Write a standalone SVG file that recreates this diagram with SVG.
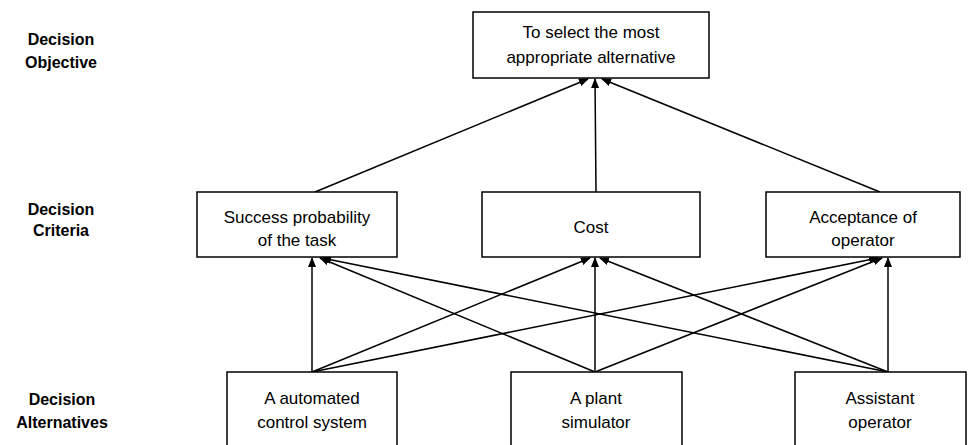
<svg xmlns="http://www.w3.org/2000/svg" width="975" height="445" viewBox="0 0 975 445">
<style>
.box{fill:#fff;stroke:#000;stroke-width:1.5}
.t{font-family:"Liberation Sans",Arial,sans-serif;font-size:17px;text-anchor:middle;fill:#000}
.lbl{font-family:"Liberation Sans",Arial,sans-serif;font-size:16px;font-weight:bold;text-anchor:middle;fill:#000}
.c line{stroke:#000;stroke-width:1.5;marker-end:url(#ah)}
</style>
<defs>
<marker id="ah" markerWidth="10" markerHeight="8" refX="9" refY="4" orient="auto" markerUnits="userSpaceOnUse">
<path d="M0,0 L10,4 L0,8 Z" fill="#000"/>
</marker>
</defs>
<g id="labels">
<text class="lbl" x="61" y="45">Decision</text>
<text class="lbl" x="61" y="68">Objective</text>
<text class="lbl" x="61" y="215">Decision</text>
<text class="lbl" x="61" y="236">Criteria</text>
<text class="lbl" x="62" y="405">Decision</text>
<text class="lbl" x="62" y="428">Alternatives</text>
</g>
<g class="c" id="connectors">
<line x1="315" y1="192" x2="588" y2="79"/>
<line x1="596" y1="192" x2="595" y2="79"/>
<line x1="880" y1="192" x2="602" y2="79"/>
<line x1="312" y1="372" x2="312" y2="258"/>
<line x1="312" y1="372" x2="590" y2="258"/>
<line x1="312" y1="372" x2="878" y2="258"/>
<line x1="595" y1="372" x2="320" y2="258"/>
<line x1="595" y1="372" x2="595" y2="258"/>
<line x1="595" y1="372" x2="882" y2="258"/>
<line x1="888" y1="372" x2="322" y2="258"/>
<line x1="888" y1="372" x2="600" y2="258"/>
<line x1="888" y1="372" x2="888" y2="258"/>
</g>
<g id="objective">
<rect class="box" x="473" y="12" width="236" height="66"/>
<text class="t" x="591" y="38">To select the most</text>
<text class="t" x="591" y="63">appropriate alternative</text>
</g>
<g id="success">
<rect class="box" x="197" y="192" width="200" height="65"/>
<text class="t" x="297" y="223">Success probability</text>
<text class="t" x="297" y="246">of the task</text>
</g>
<g id="cost">
<rect class="box" x="482" y="192" width="218" height="65"/>
<text class="t" x="591" y="233">Cost</text>
</g>
<g id="acceptance">
<rect class="box" x="766" y="192" width="194" height="65"/>
<text class="t" x="863" y="223">Acceptance of</text>
<text class="t" x="863" y="246">operator</text>
</g>
<g id="automated">
<rect class="box" x="227" y="372" width="170" height="80"/>
<text class="t" x="312" y="404">A automated</text>
<text class="t" x="312" y="428">control system</text>
</g>
<g id="plant">
<rect class="box" x="511" y="372" width="171" height="80"/>
<text class="t" x="596" y="404">A plant</text>
<text class="t" x="596" y="428">simulator</text>
</g>
<g id="assistant">
<rect class="box" x="795" y="372" width="171" height="80"/>
<text class="t" x="880" y="404">Assistant</text>
<text class="t" x="880" y="428">operator</text>
</g>
</svg>
